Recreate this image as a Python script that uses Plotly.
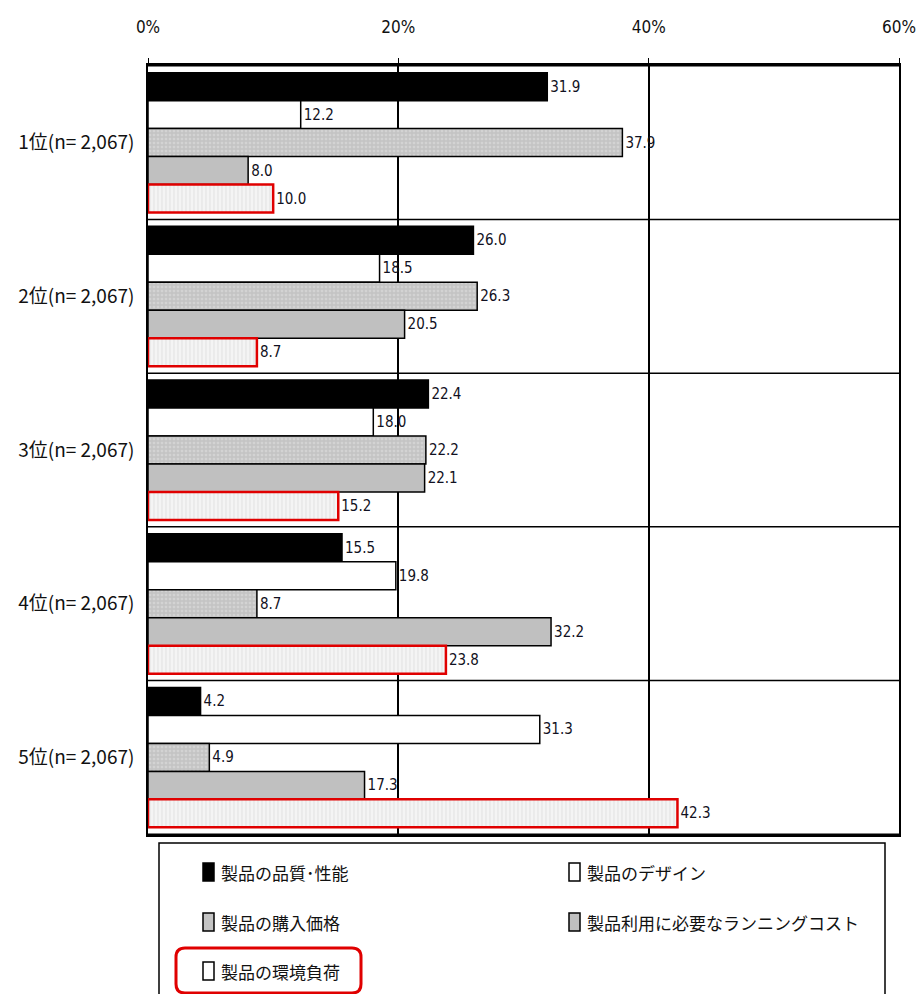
import plotly.graph_objects as go

# Ranking groups (y axis) and the five factors (series)
groups = ["1位(n= 2,067)", "2位(n= 2,067)", "3位(n= 2,067)", "4位(n= 2,067)", "5位(n= 2,067)"]
series_names = ["製品の品質･性能", "製品のデザイン", "製品の購入価格",
                "製品利用に必要なランニングコスト", "製品の環境負荷"]

quality = [31.9, 26.0, 22.4, 15.5, 4.2]
design = [12.2, 18.5, 18.0, 19.8, 31.3]
price = [37.9, 26.3, 22.2, 8.7, 4.9]
running = [8.0, 20.5, 22.1, 32.2, 17.3]
environment = [10.0, 8.7, 15.2, 23.8, 42.3]

x_ticks = [0, 20, 40, 60]
x_tick_labels = ["0%", "20%", "40%", "60%"]

NARROW = "DejaVu Sans Condensed, Liberation Sans Narrow, Liberation Sans, Arial"
JP = "Noto Sans CJK JP"

styles = [
    dict(color="#000000", line=dict(color="#000000", width=1.5)),
    dict(color="#ffffff", line=dict(color="#000000", width=1.5)),
    dict(color="#c4c4c4", line=dict(color="#000000", width=1.5),
         pattern=dict(shape=".", fgcolor="#e2e2e2", bgcolor="#c4c4c4", size=4, solidity=0.35)),
    dict(color="#c0c0c0", line=dict(color="#000000", width=1.5)),
    dict(color="#f2f2f2", line=dict(color="#e00000", width=2.5),
         pattern=dict(shape="|", fgcolor="#d6d6d6", bgcolor="#f4f4f4", size=4, solidity=0.3)),
]

fig = go.Figure()
for name, vals, st in zip(series_names, [quality, design, price, running, environment], styles):
    fig.add_trace(go.Bar(
        y=groups, x=vals, name=name, orientation="h",
        marker=st,
        text=[f"{v:.1f}" for v in vals], textposition="outside",
        textfont=dict(family=NARROW, size=15, color="#111122"),
        cliponaxis=False, showlegend=False,
    ))

W, H = 920, 994
L, R, T, B = 148, 21, 65, 159
pw, ph = W - L - R, H - T - B


def px_x(px):
    return (px - L) / pw


def px_y(py):
    return (H - B - py) / ph


shapes = []
# group separators
for k in range(len(groups) + 1):
    shapes.append(dict(type="line", xref="paper", yref="y", x0=0, x1=1,
                       y0=k - 0.5, y1=k - 0.5, line=dict(color="#000000", width=1.5), layer="above"))

# legend frame
shapes.append(dict(type="rect", xref="paper", yref="paper",
                   x0=px_x(159), x1=px_x(885), y0=px_y(1000), y1=px_y(843),
                   line=dict(color="#000000", width=1.5), fillcolor="rgba(0,0,0,0)"))

legend_items = [
    (series_names[0], 203, 872, "#000000"),
    (series_names[1], 569, 872, "#ffffff"),
    (series_names[2], 203, 922, "#c4c4c4"),
    (series_names[3], 569, 922, "#c0c0c0"),
    (series_names[4], 203, 971, "#ffffff"),
]
annotations = []
for text, sx, sy, fill in legend_items:
    shapes.append(dict(type="rect", xref="paper", yref="paper",
                       x0=px_x(sx), x1=px_x(sx + 11), y0=px_y(sy + 9), y1=px_y(sy - 9),
                       line=dict(color="#000000", width=1.5), fillcolor=fill))
    annotations.append(dict(text=text, xref="paper", yref="paper",
                            x=px_x(sx + 16), y=px_y(sy), xanchor="left", yanchor="middle",
                            showarrow=False, font=dict(family=JP, size=17, color="#111111")))

# highlight around the environmental-load legend entry
shapes.append(dict(type="path", xref="paper", yref="paper",
                   path=(f"M {px_x(185)},{px_y(948)} L {px_x(352)},{px_y(948)} "
                         f"Q {px_x(361)},{px_y(948)} {px_x(361)},{px_y(957)} "
                         f"L {px_x(361)},{px_y(984)} Q {px_x(361)},{px_y(993)} {px_x(352)},{px_y(993)} "
                         f"L {px_x(185)},{px_y(993)} Q {px_x(176)},{px_y(993)} {px_x(176)},{px_y(984)} "
                         f"L {px_x(176)},{px_y(957)} Q {px_x(176)},{px_y(948)} {px_x(185)},{px_y(948)} Z"),
                   line=dict(color="#e00000", width=3), fillcolor="rgba(0,0,0,0)"))

fig.update_layout(
    width=W, height=H,
    margin=dict(l=L, r=R, t=T, b=B, autoexpand=False),
    paper_bgcolor="#ffffff", plot_bgcolor="#ffffff",
    barmode="group", bargap=0.09, bargroupgap=0,
    shapes=shapes, annotations=annotations,
    xaxis=dict(range=[0, 60], side="top", tickvals=x_ticks, ticktext=x_tick_labels,
               automargin=False,
               showgrid=True, gridcolor="#000000", gridwidth=1.5,
               showline=True, linecolor="#000000", linewidth=1.5, mirror=True,
               ticks="outside", ticklen=5, tickcolor="#000000", ticklabelstandoff=18,
               tickfont=dict(family=NARROW, size=17, color="#111111"), zeroline=False),
    yaxis=dict(autorange="reversed", automargin=False,
               showline=True, linecolor="#000000", linewidth=1.5,
               mirror=True, ticks="", ticklabelstandoff=8,
               tickfont=dict(family=JP, size=19, color="#111111")),
    font=dict(family=JP),
)

fig.write_html("out.html")
